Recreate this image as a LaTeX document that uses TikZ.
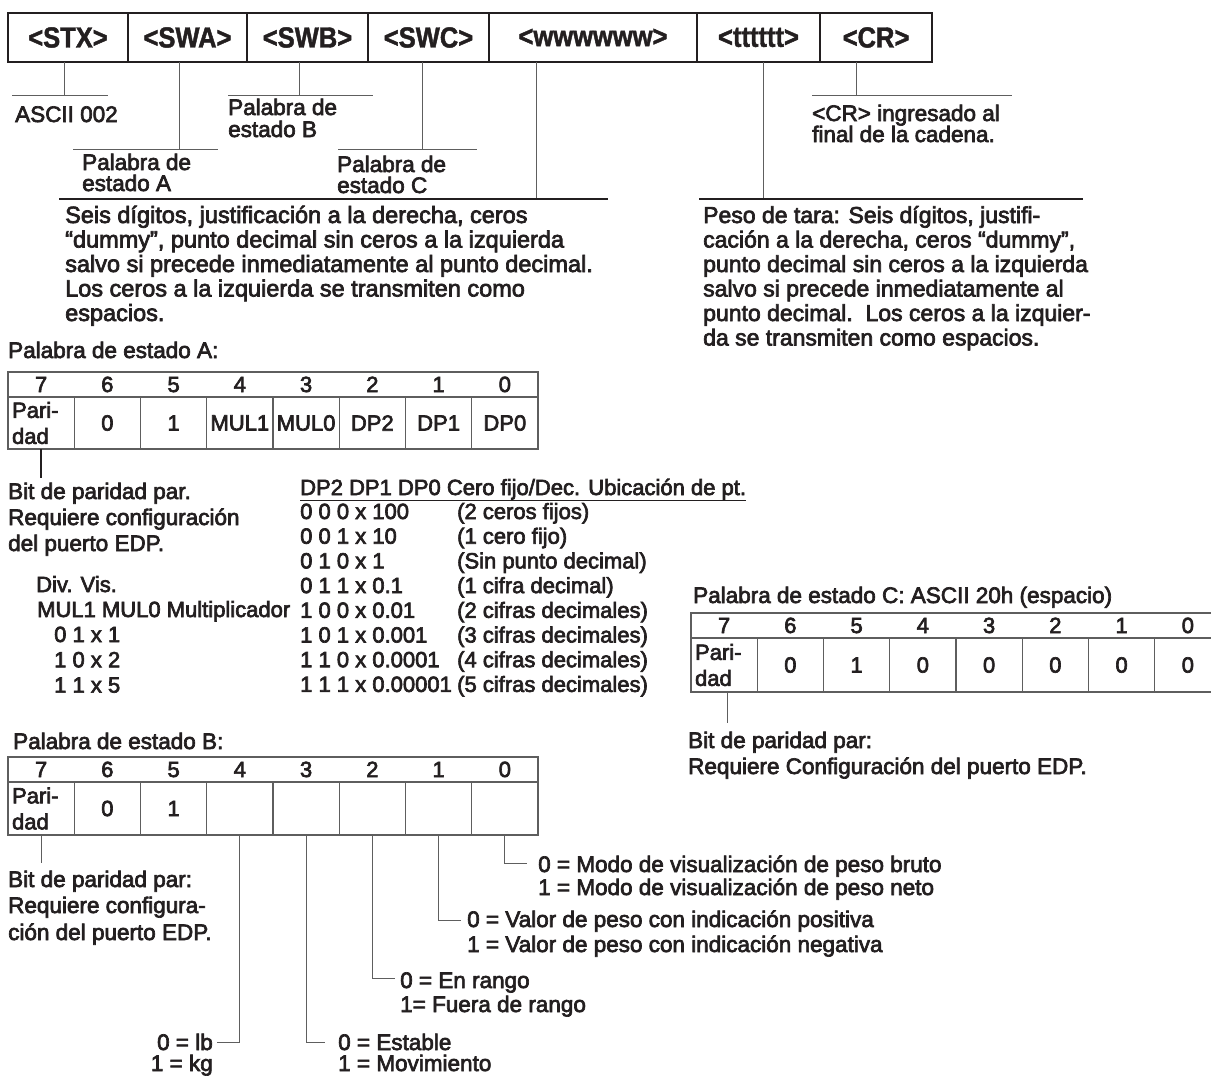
\documentclass[tikz,border=0pt]{standalone}
\usepackage{fontspec}
\setmainfont{Liberation Sans}[FakeBold=3]
\newfontfamily\fieldfont{Liberation Sans}[FakeStretch=0.88, FakeBold=1.5]
\usetikzlibrary{positioning}
\definecolor{ink}{HTML}{231F20}
\definecolor{rulegray}{HTML}{5E5E5E}

\tikzset{
  field/.style={draw=ink, line width=1.6pt, minimum height=49pt, inner sep=0pt, outer sep=0pt,
    text=ink, font=\fieldfont\bfseries\fontsize{29}{29}\selectfont},
  txt/.style={anchor=base west, inner sep=0pt, text=ink, font=\fontsize{22.5}{26}\selectfont},
  small/.style={txt, font=\fontsize{22}{26}\selectfont},
  lead/.style={draw=rulegray, line width=1pt},
  bar/.style={draw=ink, line width=2.6pt},
  hdrow/.style={draw=rulegray, line width=1.3pt, minimum width=530pt, minimum height=25pt,
    inner sep=0pt, outer sep=0pt},
  bitcell/.style={draw=rulegray, line width=1.3pt, minimum width=66.25pt, minimum height=52pt,
    inner sep=0pt, outer sep=0pt, text=ink, font=\fontsize{22}{26}\selectfont},
  parcell/.style={bitcell, align=left, text width=58pt},
}

\begin{document}
\begin{tikzpicture}[x=1pt, y=-1pt]
  \useasboundingbox (0,0) rectangle (1211,1076);

  % transmitted string
  \node[field, minimum width=120pt] (stx) at (68,37.5) {<STX>};
  \node[field, minimum width=119pt, right=0pt of stx] (swa) {<SWA>};
  \node[field, minimum width=121pt, right=0pt of swa] (swb) {<SWB>};
  \node[field, minimum width=121pt, right=0pt of swb] (swc) {<SWC>};
  \node[field, minimum width=208pt, right=0pt of swc] (wgt) {<wwwwww>};
  \node[field, minimum width=123pt, right=0pt of wgt] (tare) {<tttttt>};
  \node[field, minimum width=112pt, right=0pt of tare] (cr) {<CR>};

  % leaders under the fields
  \draw[lead] ([xshift=-4pt]stx.south) -- ++(0,33) coordinate (kstx);
  \draw[lead] ([xshift=-52pt]kstx) -- ([xshift=44pt]kstx);
  \node[txt] (ascii) at (15,122) {ASCII 002};

  \draw[lead] ([xshift=-8.5pt]swa.south) -- ++(0,87) coordinate (kswa);
  \draw[lead] ([xshift=-106pt]kswa) -- ([xshift=39pt]kswa);
  \node[txt] (lswa1) at (82,170) {Palabra de};
  \node[txt] (lswa2) at (82,191) {estado A};

  \draw[lead] ([xshift=-8.5pt]swb.south) -- ++(0,33) coordinate (kswb);
  \draw[lead] ([xshift=-71pt]kswb) -- ([xshift=74pt]kswb);
  \node[txt] (lswb1) at (228,115) {Palabra de};
  \node[txt] (lswb2) at (228,137) {estado B};

  \draw[lead] ([xshift=-6.5pt]swc.south) -- ++(0,87) coordinate (kswc);
  \draw[lead] ([xshift=-84pt]kswc) -- ([xshift=55pt]kswc);
  \node[txt] (lswc1) at (337,172) {Palabra de};
  \node[txt] (lswc2) at (337,193) {estado C};

  \draw[lead] ([xshift=-57pt]wgt.south) -- ++(0,137) coordinate (kwgt);
  \draw[bar] ([xshift=-477pt]kwgt) -- ([xshift=72pt]kwgt);
  \foreach \l [count=\i from 0] in {{Seis dígitos, justificación a la derecha, ceros},
      {“dummy”, punto decimal sin ceros a la izquierda},
      {salvo si precede inmediatamente al punto decimal.},
      {Los ceros a la izquierda se transmiten como},
      {espacios.}}
    \node[txt, font=\fontsize{23.5}{26}\selectfont] (wtxt\i) at (65,223+24.5*\i) {\l};

  \draw[lead] ([xshift=4.5pt]tare.south) -- ++(0,137) coordinate (ktare);
  \draw[bar] ([xshift=-64pt]ktare) -- ([xshift=320pt]ktare);
  \foreach \l [count=\i from 0] in {{Peso de tara: Seis dígitos, justifi-},
      {cación a la derecha, ceros “dummy”,},
      {punto decimal sin ceros a la izquierda},
      {salvo si precede inmediatamente al},
      {punto decimal.\ \ Los ceros a la izquier-},
      {da se transmiten como espacios.}}
    \node[txt, font=\fontsize{23}{26}\selectfont] (ttxt\i) at (703,223+24.5*\i) {\l};

  \draw[lead] ([xshift=-20pt]cr.south) -- ++(0,33) coordinate (kcr);
  \draw[lead] ([xshift=-44pt]kcr) -- ([xshift=156pt]kcr);
  \node[txt] (lcr1) at (812,121) {<CR> ingresado al};
  \node[txt] (lcr2) at (812,142) {final de la cadena.};

  % Palabra de estado A
  \node[txt] (titA) at (8,358) {Palabra de estado A:};
  \node[hdrow] (hdA) at (273,384.5) {};
  \foreach \b [count=\i from 0] in {7,6,5,4,3,2,1,0}
    \node[small, anchor=base] (nA\i) at (41.1+66.25*\i,392) {\b};
  \node[parcell] (a0) at (41.1,423) {Pari-\\dad};
  \foreach \v [count=\i from 1] in {0,1,MUL1,MUL0,DP2,DP1,DP0}
    \node[bitcell] (a\i) at (41.1+66.25*\i,423) {\v};
  \draw[lead, draw=ink, line width=1.6pt] (a0.south) -- ++(0,29) coordinate (kA);
  \node[txt] (pA1) at (8,499) {Bit de paridad par.};
  \node[txt] (pA2) at (8,525) {Requiere configuración};
  \node[txt] (pA3) at (8,551) {del puerto EDP.};

  \node[small] (dv1) at (36,592) {Div. Vis.};
  \node[small] (dv2) at (37,617) {MUL1 MUL0 Multiplicador};
  \foreach \l [count=\i from 0] in {0 1 x 1, 1 0 x 2, 1 1 x 5}
    \node[small] (mul\i) at (54,642+25.3*\i) {\l};

  \node[small] (dph) at (300,495) {DP2 DP1 DP0 Cero fijo/Dec. Ubicación de pt.};
  \draw[lead, draw=ink] ([yshift=-5pt]dph.base west) -- ([yshift=-5pt]dph.base east);
  \foreach \c/\d [count=\i from 0] in {0 0 0 x 100/(2 ceros fijos), 0 0 1 x 10/(1 cero fijo),
      0 1 0 x 1/(Sin punto decimal), 0 1 1 x 0.1/(1 cifra decimal),
      1 0 0 x 0.01/(2 cifras decimales), 1 0 1 x 0.001/(3 cifras decimales),
      1 1 0 x 0.0001/(4 cifras decimales), 1 1 1 x 0.00001/(5 cifras decimales)} {
    \node[small] (dpc\i) at (300,519+24.7*\i) {\c};
    \node[small] (dpd\i) at (457,519+24.7*\i) {\d};
  }

  % Palabra de estado C
  \node[txt] (titC) at (693,603) {Palabra de estado C: ASCII 20h (espacio)};
  \node[hdrow] (hdC) at (956,625.5) {};
  \foreach \b [count=\i from 0] in {7,6,5,4,3,2,1,0}
    \node[small, anchor=base] (nC\i) at (724.1+66.25*\i,633) {\b};
  \node[parcell, minimum height=54pt] (c0) at (724.1,665) {Pari-\\dad};
  \foreach \v [count=\i from 1] in {0,1,0,0,0,0,0}
    \node[bitcell, minimum height=54pt] (c\i) at (724.1+66.25*\i,665) {\v};
  \draw[lead] ([xshift=3pt]c0.south) -- ++(0,31) coordinate (kC);
  \node[txt] (pC1) at (688,748) {Bit de paridad par:};
  \node[txt] (pC2) at (688,774) {Requiere Configuración del puerto EDP.};

  % Palabra de estado B
  \node[txt] (titB) at (13,749) {Palabra de estado B:};
  \node[hdrow] (hdB) at (273,769.5) {};
  \foreach \b [count=\i from 0] in {7,6,5,4,3,2,1,0}
    \node[small, anchor=base] (nB\i) at (41.1+66.25*\i,777) {\b};
  \node[parcell, minimum height=53pt] (b0) at (41.1,808.5) {Pari-\\dad};
  \foreach \v [count=\i from 1] in {0,1,,,,,}
    \node[bitcell, minimum height=53pt] (b\i) at (41.1+66.25*\i,808.5) {\v};
  \draw[lead] (b0.south) -- ++(0,28) coordinate (kB);
  \node[txt] (pB1) at (8,887) {Bit de paridad par:};
  \node[txt] (pB2) at (8,913) {Requiere configura-};
  \node[txt] (pB3) at (8,940) {ción del puerto EDP.};

  % bit meanings
  \coordinate (kB4) at (217,1042);
  \coordinate (kB3) at (325,1042);
  \coordinate (kB2) at (395,978);
  \coordinate (kB1) at (461,920);
  \coordinate (kB0) at (527,863);
  \draw[lead] (b3.south) |- (kB4);
  \draw[lead] (b4.south) |- (kB3);
  \draw[lead] (b5.south) |- (kB2);
  \draw[lead] (b6.south) |- (kB1);
  \draw[lead] (b7.south) |- (kB0);
  \node[txt, anchor=base east] (lb0) at (213,1050) {0 = lb};
  \node[txt, anchor=base east] (lb1) at (213,1071) {1 = kg};
  \node[txt] (st0) at (338,1050) {0 = Estable};
  \node[txt] (st1) at (338,1071) {1 = Movimiento};
  \node[txt] (rg0) at (400,988) {0 = En rango};
  \node[txt] (rg1) at (400,1012) {1= Fuera de rango};
  \node[txt] (sg0) at (467,927) {0 = Valor de peso con indicación positiva};
  \node[txt] (sg1) at (467,952) {1 = Valor de peso con indicación negativa};
  \node[txt] (md0) at (538,872) {0 = Modo de visualización de peso bruto};
  \node[txt] (md1) at (538,895) {1 = Modo de visualización de peso neto};
\end{tikzpicture}
\end{document}
